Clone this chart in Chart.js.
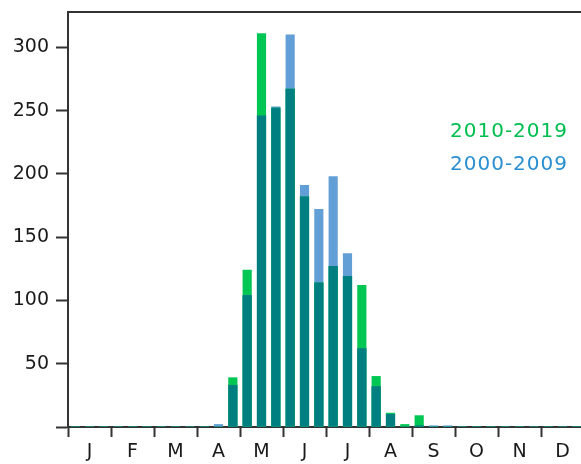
<!DOCTYPE html>
<html>
<head>
<meta charset="utf-8">
<script src="https://cdn.jsdelivr.net/npm/chart.js@4.4.0/dist/chart.umd.min.js"></script>
<style>
html,body{margin:0;padding:0;background:#fff;overflow:hidden;}
canvas{display:block;}
</style>
</head>
<body>
<canvas id="c" width="590" height="464"></canvas>
<script>
const months = ['J','F','M','A','M','J','J','A','S','O','N','D'];
const dekads = ['1','2','3'];
const categories = [];
months.forEach((m, i) => dekads.forEach(d => categories.push(i + '-' + m + d)));

const label2010 = '2010-2019';
const label2000 = '2000-2009';

const values2010 = [0,0,0, 0,0,0, 0,0,0, 0,0,39, 124,311,252, 267,182,114, 127,119,112, 40,11,2, 9,0,0, 0,0,0, 0,0,0, 0,0,0];
const values2000 = [0,0,0, 0,0,0, 0,0,0, 0,2,33, 104,246,253, 310,191,172, 198,137,62, 32,10,0, 1,1,1, 0,0,0, 0,0,0, 0,0,0];
const overlap = values2010.map((v, i) => Math.min(v, values2000[i]));

const yTicks = [0,50,100,150,200,250,300];

const GREEN = '#00C653';
const BLUE = '#629FD6';
const TEAL = '#007F80';
const AXIS = '#333333';
const FONT = 'DejaVu Sans';

const textLegend = {
  id: 'textLegend',
  afterDraw(chart) {
    const ctx = chart.ctx;
    ctx.save();
    ctx.font = '20px "' + FONT + '"';
    if ('letterSpacing' in ctx) ctx.letterSpacing = '1px';
    ctx.textAlign = 'left';
    ctx.textBaseline = 'alphabetic';
    ctx.fillStyle = '#00BE50';
    ctx.fillText(label2010, 450, 137);
    ctx.fillStyle = '#2A8FD0';
    ctx.fillText(label2000, 450, 170);
    ctx.restore();
  }
};
const topBorder = {
  id: 'topBorder',
  afterDraw(chart) {
    const a = chart.chartArea, ctx = chart.ctx;
    ctx.save();
    ctx.strokeStyle = AXIS;
    ctx.lineWidth = 2;
    ctx.beginPath();
    ctx.moveTo(a.left - 1, a.top);
    ctx.lineTo(a.right, a.top);
    ctx.stroke();
    ctx.restore();
  }
};

new Chart(document.getElementById('c'), {
  type: 'bar',
  data: {
    labels: categories,
    datasets: [
      { label: 'overlap', data: overlap, backgroundColor: TEAL, order: 0 },
      { label: label2010, data: values2010, backgroundColor: GREEN, order: 1 },
      { label: label2000, data: values2000, backgroundColor: BLUE, order: 2 }
    ]
  },
  options: {
    responsive: false,
    devicePixelRatio: 1,
    animation: false,
    layout: { padding: { top: 12, right: 6, left: 0, bottom: 0 } },
    datasets: { bar: { grouped: false, barThickness: 8.5, borderWidth: 0 } },
    plugins: { legend: { display: false }, tooltip: { enabled: false } },
    scales: {
      x: {
        type: 'category',
        offset: true,
        grid: {
          display: true,
          offset: true,
          drawOnChartArea: false,
          drawTicks: true,
          tickLength: 10,
          tickWidth: 2,
          tickColor: (ctx) => (ctx.index % 3 === 0 ? AXIS : 'rgba(0,0,0,0)')
        },
        border: { display: true, color: AXIS, width: 2 },
        ticks: {
          autoSkip: false,
          maxRotation: 0,
          minRotation: 0,
          padding: 4,
          color: '#1a1a1a',
          font: { family: FONT, size: 19 },
          callback: (v, i) => (i % 3 === 1 ? months[(i - 1) / 3] : '')
        },
        afterFit: (s) => { s.height = 37; s.paddingLeft = 0; s.paddingRight = 0; }
      },
      y: {
        min: 0,
        max: 328,
        grid: {
          display: true,
          drawOnChartArea: false,
          drawTicks: true,
          tickLength: 12,
          tickWidth: 2,
          tickColor: AXIS
        },
        border: { display: true, color: AXIS, width: 2 },
        ticks: {
          stepSize: 50,
          padding: 7,
          color: '#1a1a1a',
          font: { family: FONT, size: 19 },
          callback: (v) => (v === 0 ? '' : v)
        },
        afterBuildTicks: (s) => { s.ticks = yTicks.map(v => ({ value: v })); },
        afterFit: (s) => { s.width = 68; s.paddingTop = 0; s.paddingBottom = 0; }
      }
    }
  },
  plugins: [textLegend, topBorder]
});
</script>
</body>
</html>
